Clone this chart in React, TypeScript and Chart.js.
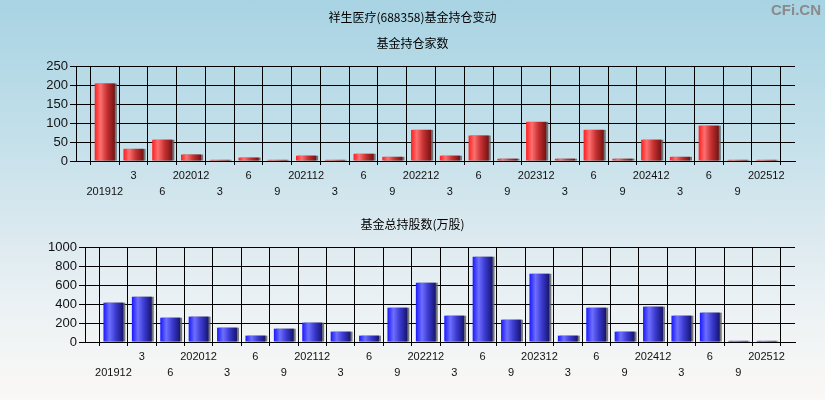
import React, { useEffect, useRef } from "react";
import { Chart, registerables } from "chart.js";

Chart.register(...registerables);

const quarterLabels = [
  "201912", "3", "6", "202012", "3", "6", "9", "202112", "3", "6", "9", "202212",
  "3", "6", "9", "202312", "3", "6", "9", "202412", "3", "6", "9", "202512",
];
const fundCounts = [204, 32, 56, 17, 3, 9, 3, 14, 3, 19, 11, 82, 14, 67, 6, 103, 6, 82, 6, 56, 11, 93, 3, 3];
const fundShares = [414, 477, 256, 267, 151, 67, 140, 204, 109, 67, 361, 625, 277, 898, 235, 719, 67, 361, 109, 372, 277, 309, 12, 12];
const countTicks = { max: 250, step: 50 };
const shareTicks = { max: 1000, step: 200 };

const mainTitle = "祥生医疗(688358)基金持仓变动";
const countTitle = "基金持仓家数";
const shareTitle = "基金总持股数(万股)";

const RED_STOPS: [number, string][] = [
  [0, "#ff1c1c"], [0.28, "#ff7070"], [0.6, "#c83232"], [1, "#741212"],
];
const BLUE_STOPS: [number, string][] = [
  [0, "#1818ff"], [0.3, "#6e6eff"], [0.62, "#3a3ad0"], [1, "#15156e"],
];

const paddedLabels = ["", ...quarterLabels.map((q, i) => (i % 2 === 1 ? [q, ""] : ["", q])), ""];
const pad = (arr: number[]) => [null, ...arr, null];

function barFill(stops: [number, string][]) {
  return (c: any) => {
    const chart = c.chart;
    const xs = chart.scales && chart.scales.x;
    if (!xs || c.dataIndex == null || !xs.ticks || xs.ticks.length < 2) return stops[1][1];
    const cx = xs.getPixelForValue(c.dataIndex);
    const w = (xs.width / (xs.ticks.length - 1)) * 0.7;
    const g = chart.ctx.createLinearGradient(cx - w / 2, 0, cx + w / 2, 0);
    stops.forEach(([o, col]) => g.addColorStop(o, col));
    return g;
  };
}

const shadowPlugin = {
  id: "barShadow",
  beforeDatasetsDraw(chart: any) {
    const ctx = chart.ctx;
    ctx.save();
    ctx.shadowColor = "rgba(95,95,95,0.85)";
    ctx.shadowOffsetX = 2;
    ctx.shadowOffsetY = 0;
    ctx.shadowBlur = 0;
  },
  afterDatasetsDraw(chart: any) {
    chart.ctx.restore();
  },
};

function makeConfig(values: number[], stops: [number, string][], tk: { max: number; step: number }, yWidth: number, padTop: number, xHeight: number) {
  return {
    type: "bar" as const,
    data: {
      labels: paddedLabels,
      datasets: [
        {
          data: pad(values),
          backgroundColor: barFill(stops),
          borderWidth: 0,
          categoryPercentage: 1,
          barPercentage: 0.7,
          minBarLength: 1,
        },
      ],
    },
    options: {
      responsive: false,
      animation: false as const,
      layout: { padding: { top: padTop, right: 30, left: 0, bottom: 0 } },
      plugins: { legend: { display: false }, title: { display: false }, tooltip: { enabled: false } },
      scales: {
        x: {
          type: "category" as const,
          offset: false,
          grid: { color: "#000", lineWidth: 1, tickLength: 4, tickColor: "#000", drawTicks: true },
          border: { color: "#000", width: 1 },
          ticks: {
            autoSkip: false,
            maxRotation: 0,
            minRotation: 0,
            padding: 3,
            color: "#111",
            font: { size: 11, lineHeight: 16 / 11 },
          },
          afterFit: (s: any) => {
            s.height = xHeight;
          },
        },
        y: {
          min: 0,
          max: tk.max,
          grid: { color: "#000", lineWidth: 1, tickLength: 6, tickColor: "#000", drawTicks: true },
          border: { color: "#000", width: 1 },
          ticks: {
            stepSize: tk.step,
            padding: 2,
            color: "#111",
            font: { size: 13 },
            callback: (v: any) => String(v),
          },
          afterFit: (s: any) => {
            s.width = yWidth;
          },
        },
      },
    },
    plugins: [shadowPlugin],
  };
}

function BarPanel(props: { values: number[]; stops: [number, string][]; tk: { max: number; step: number }; yWidth: number; padTop: number; xHeight: number; top: number }) {
  const ref = useRef<HTMLCanvasElement | null>(null);
  useEffect(() => {
    if (!ref.current) return;
    const chart = new Chart(ref.current, makeConfig(props.values, props.stops, props.tk, props.yWidth, props.padTop, props.xHeight) as any);
    return () => chart.destroy();
  }, []);
  return (
    <canvas
      ref={ref}
      width={825}
      height={200}
      style={{ position: "absolute", left: 0, top: props.top, width: 825, height: 200, display: "block" }}
    />
  );
}

const titleStyle = (top: number): React.CSSProperties => ({
  position: "absolute",
  left: 0,
  width: 825,
  top,
  textAlign: "center",
  fontFamily: "'Noto Sans CJK SC', 'Liberation Sans', sans-serif",
  fontSize: 12,
  lineHeight: "16px",
  color: "#000",
});

export default function App() {
  Chart.defaults.font.family = "'Liberation Sans', Arial, sans-serif";
  return (
    <div
      style={{
        position: "absolute",
        left: 0,
        top: 0,
        width: 825,
        height: 400,
        overflow: "hidden",
        background: "linear-gradient(to bottom, #a8d3e3 0%, #c4e0ea 35%, #dbe9ef 58%, #eaf1f4 75%, #fbf8f6 100%)",
      }}
    >
      <BarPanel values={fundCounts} stops={RED_STOPS} tk={countTicks} yWidth={76} padTop={66} xHeight={39} top={0} />
      <BarPanel values={fundShares} stops={BLUE_STOPS} tk={shareTicks} yWidth={85} padTop={47} xHeight={58} top={200} />
      <div style={titleStyle(9)}>{mainTitle}</div>
      <div style={titleStyle(35)}>{countTitle}</div>
      <div style={titleStyle(216)}>{shareTitle}</div>
      <div
        style={{
          position: "absolute",
          right: 4,
          top: 1,
          fontFamily: "'Liberation Sans', Arial, sans-serif",
          fontWeight: "bold",
          fontSize: 15,
          color: "#8a8a8a",
        }}
      >
        CFi.CN
      </div>
    </div>
  );
}
